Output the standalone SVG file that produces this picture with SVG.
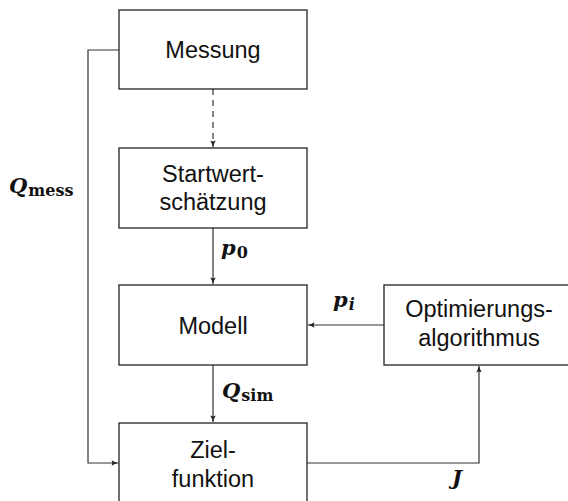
<svg xmlns="http://www.w3.org/2000/svg" width="568" height="501" viewBox="0 0 568 501">
  <style>
    .box { fill: #ffffff; stroke: #222; stroke-width: 1.3; }
    .lbl { font-family: "Liberation Sans", Arial, sans-serif; font-size: 23.5px; fill: #111; text-anchor: middle; }
    .edge { fill: none; stroke: #333; stroke-width: 1.2; }
    .dash { stroke-dasharray: 6 5; }
    .math { font-family: "DejaVu Serif", "Liberation Serif", serif; font-weight: bold; fill: #111; }
    .var { font-style: italic; font-size: 21px; }
    .sub { font-size: 16px; font-style: normal; }
  </style>
  <defs>
    <marker id="arr" viewBox="0 0 10 10" refX="9" refY="5" markerWidth="8" markerHeight="8" markerUnits="userSpaceOnUse" orient="auto">
      <path d="M1,1.5 Q5,4 9,5 Q5,6 1,8.5 Q3,5 1,1.5 Z" fill="#222"/>
    </marker>
  </defs>

  <!-- connectors -->
  <g id="connectors">
    <path class="edge dash" d="M213,89 V147" marker-end="url(#arr)"/>
    <path class="edge" d="M213,228 V284" marker-end="url(#arr)"/>
    <path class="edge" d="M213,365 V422" marker-end="url(#arr)"/>
    <path class="edge" d="M119,50 H88 V463 H118" marker-end="url(#arr)"/>
    <path class="edge" d="M384,325 H308" marker-end="url(#arr)"/>
    <path class="edge" d="M307,463 H479 V366" marker-end="url(#arr)"/>
    <text class="math" x="9" y="193"><tspan class="var">Q</tspan><tspan class="sub" dx="1" dy="3">mess</tspan></text>
    <text class="math" x="221" y="255"><tspan class="var">p</tspan><tspan class="sub" dx="1" dy="3">0</tspan></text>
    <text class="math" x="222" y="398"><tspan class="var">Q</tspan><tspan class="sub" dx="1" dy="3">sim</tspan></text>
    <text class="math" x="333" y="307"><tspan class="var">p</tspan><tspan class="sub" style="font-style:italic" dx="1" dy="3">i</tspan></text>
    <text class="math var" x="452" y="485">J</text>
  </g>

  <g id="messung">
    <rect class="box" x="119" y="10" width="188" height="79"/>
    <text class="lbl" x="213" y="58">Messung</text>
  </g>
  <g id="startwert">
    <rect class="box" x="119" y="148" width="188" height="80"/>
    <text class="lbl" x="213" y="182">Startwert-</text>
    <text class="lbl" x="213" y="210">schätzung</text>
  </g>
  <g id="modell">
    <rect class="box" x="119" y="285" width="188" height="80"/>
    <text class="lbl" x="213" y="334">Modell</text>
  </g>
  <g id="zielfunktion">
    <rect class="box" x="119" y="423" width="188" height="85"/>
    <text class="lbl" x="213" y="458">Ziel-</text>
    <text class="lbl" x="213" y="487">funktion</text>
  </g>
  <g id="optimierung">
    <rect class="box" x="384" y="285" width="190" height="80"/>
    <text class="lbl" x="479" y="317">Optimierungs-</text>
    <text class="lbl" x="479" y="346">algorithmus</text>
  </g>
</svg>
